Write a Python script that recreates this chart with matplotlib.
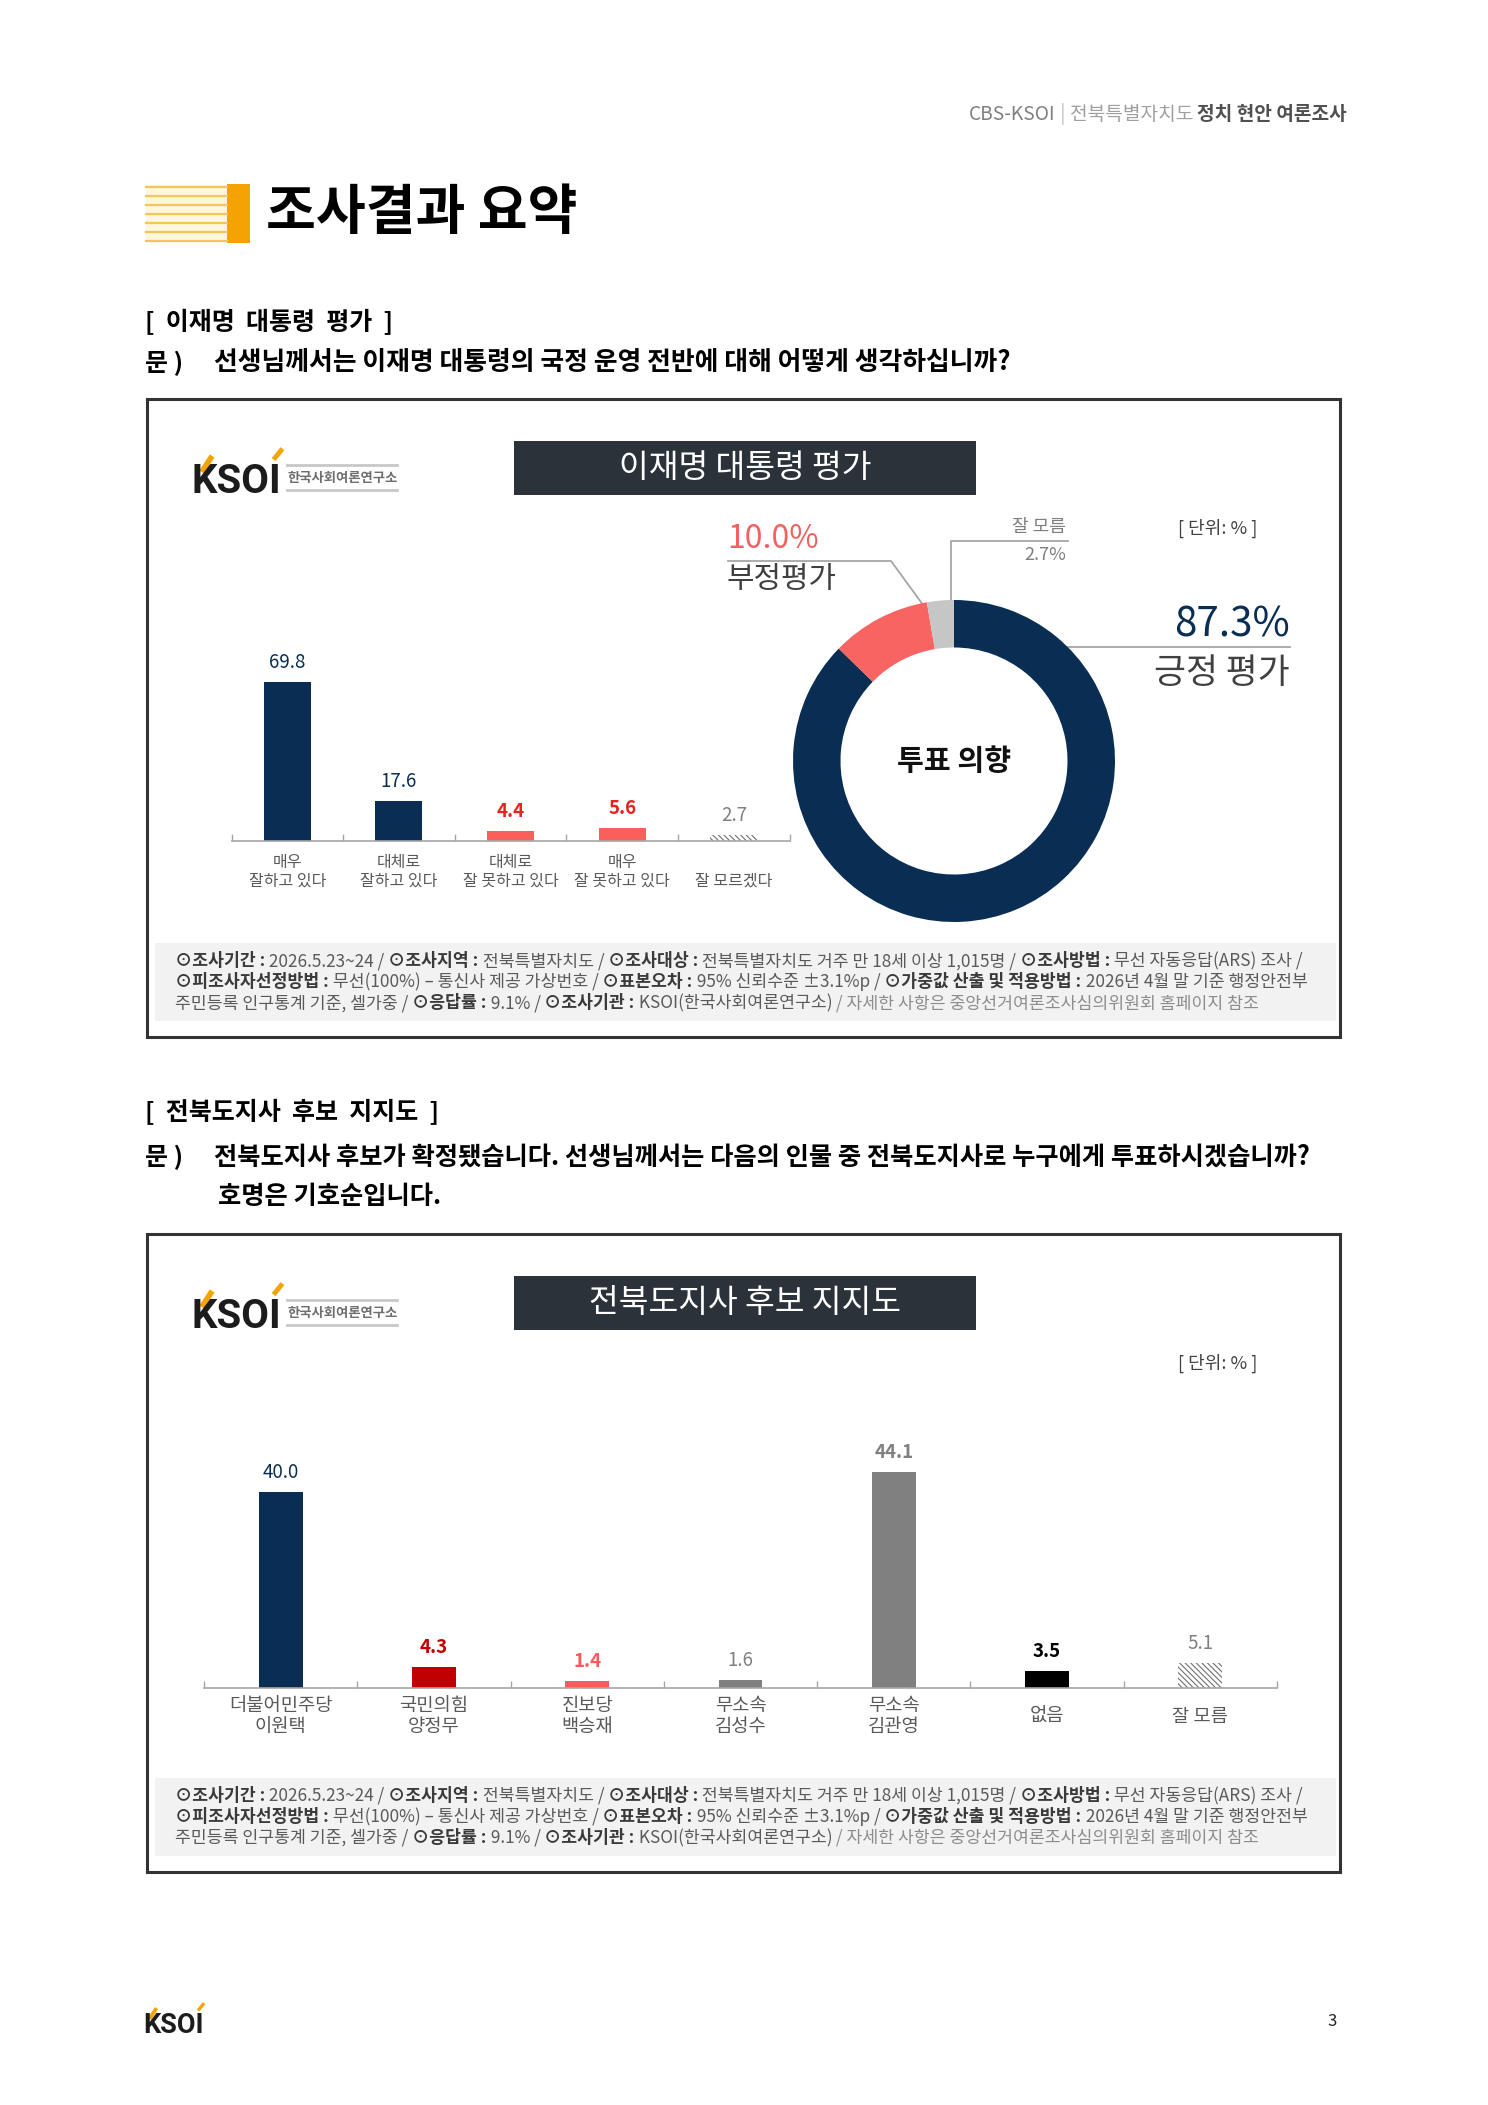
import numpy as np
import matplotlib
matplotlib.use('Agg')
from matplotlib import pyplot as plt
from matplotlib.patches import Rectangle

plt.rcParams['font.family'] = ['Noto Sans CJK KR', 'DejaVu Sans']
plt.rcParams['hatch.linewidth'] = 0.8

W, H = 1488, 2105

eval_cats = ['매우\n잘하고 있다', '대체로\n잘하고 있다', '대체로\n잘 못하고 있다',
             '매우\n잘 못하고 있다', '\n잘 모르겠다']
eval_vals = [69.8, 17.6, 4.4, 5.6, 2.7]

donut_labels = ['긍정 평가', '부정평가', '잘 모름']
donut_vals = [87.3, 10.0, 2.7]

cand_cats = ['더불어민주당\n이원택', '국민의힘\n양정무', '진보당\n백승재', '무소속\n김성수',
             '무소속\n김관영', '없음', '잘 모름']
cand_vals = [40.0, 4.3, 1.4, 1.6, 44.1, 3.5, 5.1]

NAVY = '#0a2d53'
CORAL = '#fa5f5c'

fig = plt.figure(figsize=(W / 100, H / 100), dpi=100)
page = fig.add_axes([0, 0, 1, 1])
page.set_xlim(0, W)
page.set_ylim(H, 0)
page.axis('off')
renderer = fig.canvas.get_renderer()


def px_axes(x0, y0, x1, y1):
    return fig.add_axes([x0 / W, 1 - y1 / H, (x1 - x0) / W, (y1 - y0) / H])


_pipe = {}
def text_w(s, size, weight, family=None):
    kw = {} if family is None else {'family': family}
    t = page.text(0, 0, '|' + s + '|', fontsize=size, fontweight=weight, **kw)
    w = t.get_window_extent(renderer).width
    t.remove()
    key = (size, weight, family)
    if key not in _pipe:
        t = page.text(0, 0, '||', fontsize=size, fontweight=weight, **kw)
        _pipe[key] = t.get_window_extent(renderer).width
        t.remove()
    return w - _pipe[key]


def runs(x, y, parts, size, ha='left'):
    widths = [text_w(s, size, wt) for s, wt, c in parts]
    if ha == 'right':
        x = x - sum(widths)
    for (s, wt, c), w in zip(parts, widths):
        page.text(x, y, s, fontsize=size, fontweight=wt, color=c, va='center', ha='left')
        x += w
    return sum(widths)


def logo(x, base, size, sub=True):
    page.text(x, base, 'KSOI', fontsize=size, fontweight='bold', family='Roboto',
              va='baseline', color='#1c1c1c')
    w = text_w('KSOI', size, 'bold', 'Roboto')
    em = size * 100 / 72
    page.plot([x + 0.24 * em, x + 0.5 * em], [base - 0.52 * em, base - 0.92 * em],
              color='#f5a300', lw=size * 0.14, solid_capstyle='butt')
    page.plot([x + w - 0.2 * em, x + w + 0.02 * em], [base - 0.83 * em, base - 1.1 * em],
              color='#f5a300', lw=size * 0.12, solid_capstyle='butt')
    if sub:
        sx = x + 95
        page.plot([sx, sx + 110], [base - 28, base - 28], color='#c8c8c8', lw=2)
        page.plot([sx, sx + 110], [base - 3, base - 3], color='#c8c8c8', lw=2)
        page.text(sx, base - 15, '한국사회여론연구소', fontsize=9.6, fontweight='bold',
                  color='#6e6e6e', va='center')


# ---- page header ----
runs(1347, 114, [('CBS-KSOI', 'normal', '#808080'), (' | ', 'normal', '#c0c0c0'),
                 ('전북특별자치도 ', 'normal', '#a0a0a0'), ('정치 현안 여론조사', 'bold', '#505050')],
     13.8, ha='right')

page.add_patch(Rectangle((146, 185), 81, 57, fc='#fff6dc', ec='none'))
for yy in np.linspace(187, 241, 7):
    page.plot([146, 227], [yy, yy], color='#f2c65a', lw=1.6)
page.add_patch(Rectangle((227, 184), 23, 59, fc='#f5a300', ec='none'))
page.text(266, 213, '조사결과 요약', fontsize=39, fontweight='bold', va='center')

page.text(145, 322, '[  이재명  대통령  평가  ]', fontsize=18, fontweight='bold', va='center')
page.text(145, 363, '문 )', fontsize=18, fontweight='bold', va='center')
page.text(214, 363, '선생님께서는 이재명 대통령의 국정 운영 전반에 대해 어떻게 생각하십니까?',
          fontsize=18.6, fontweight='bold', va='center')

page.text(145, 1112, '[  전북도지사  후보  지지도  ]', fontsize=18, fontweight='bold', va='center')
page.text(145, 1157, '문 )', fontsize=18, fontweight='bold', va='center')
page.text(214, 1157, '전북도지사 후보가 확정됐습니다. 선생님께서는 다음의 인물 중 전북도지사로 '
          '누구에게 투표하시겠습니까?', fontsize=18.2, fontweight='bold', va='center')
page.text(218, 1197, '호명은 기호순입니다.', fontsize=18.2, fontweight='bold', va='center')

# ---- footnote text ----
B, R, L = '#3a3a3a', '#5a5a5a', '#8c8c8c'
note_lines = [
    [('⊙조사기간 :', 'bold', B), (' 2026.5.23~24 / ', 'normal', R), ('⊙조사지역 :', 'bold', B),
     (' 전북특별자치도 / ', 'normal', R), ('⊙조사대상 :', 'bold', B),
     (' 전북특별자치도 거주 만 18세 이상 1,015명 / ', 'normal', R), ('⊙조사방법 :', 'bold', B),
     (' 무선 자동응답(ARS) 조사 /', 'normal', R)],
    [('⊙피조사자선정방법 :', 'bold', B), (' 무선(100%) – 통신사 제공 가상번호 / ', 'normal', R),
     ('⊙표본오차 :', 'bold', B), (' 95% 신뢰수준 ±3.1%p / ', 'normal', R),
     ('⊙가중값 산출 및 적용방법 :', 'bold', B), (' 2026년 4월 말 기준 행정안전부', 'normal', R)],
    [('주민등록 인구통계 기준, 셀가중 / ', 'normal', R), ('⊙응답률 :', 'bold', B),
     (' 9.1% / ', 'normal', R), ('⊙조사기관 :', 'bold', B), (' KSOI(한국사회여론연구소)', 'normal', R),
     (' / 자세한 사항은 중앙선거여론조사심의위원회 홈페이지 참조', 'normal', L)],
]
w0 = sum(text_w(s, 10, wt) for s, wt, c in note_lines[0])
note_fs = 10 * 1124 / w0


def panel(dy, title):
    page.add_patch(Rectangle((147, 399 + dy), 1193, 638, fill=False, ec='#333333', lw=2.2))
    page.add_patch(Rectangle((155, 943 + dy), 1181, 78, fc='#f2f2f2', ec='none'))
    page.add_patch(Rectangle((514, 441 + dy), 462, 54, fc='#2b323a', ec='none'))
    page.text(745, 468 + dy, title, color='white', fontsize=23.3, ha='center', va='center')
    logo(192, 493 + dy, 29)
    page.text(1178, 528 + dy, '[ 단위: % ]', fontsize=13, color='#404040', va='center')
    for k, parts in enumerate(note_lines):
        runs(175, 961 + dy + 21 * k, parts, note_fs)


panel(0, '이재명 대통령 평가')
panel(835, '전북도지사 후보 지지도')


def bar_axes(ax, n, ymax):
    ax.set_xlim(-0.5, n - 0.5)
    ax.set_ylim(0, ymax)
    ax.set_facecolor('none')
    for s in ['left', 'right', 'top']:
        ax.spines[s].set_visible(False)
    ax.spines['bottom'].set_color('#a6a6a6')
    ax.spines['bottom'].set_linewidth(1.2)
    ax.set_yticks([])
    ax.set_xticks([])
    ax.set_xticks(np.arange(n + 1) - 0.5, minor=True)
    ax.tick_params(which='minor', direction='in', length=5, color='#a6a6a6', width=1)


# ---- chart 1: evaluation bars ----
ax1 = px_axes(231.5, 613, 789.6, 841)
bar_axes(ax1, len(eval_vals), 100)
c1 = [NAVY, NAVY, CORAL, CORAL, None]
lc1 = [NAVY, NAVY, '#e8231f', '#e8231f', '#808080']
wt1 = ['medium', 'medium', 'bold', 'bold', 'normal']
for i, v in enumerate(eval_vals):
    if c1[i] is None:
        ax1.bar(i, v, 0.42, facecolor='white', edgecolor='#707070', lw=0, hatch='\\\\\\\\\\\\')
    else:
        ax1.bar(i, v, 0.42, color=c1[i])
    ax1.annotate(f'{v:.1f}', (i, v), xytext=(0, 14), textcoords='offset points',
                 ha='center', va='center', fontsize=13.5, color=lc1[i], fontweight=wt1[i])
    ax1.annotate(eval_cats[i], (i, 0), xytext=(0, -22), textcoords='offset points',
                 ha='center', va='center', fontsize=11.5, color='#595959', linespacing=1.1)

# ---- donut ----
cx, cy, rad = 954, 761, 161
axd = px_axes(cx - rad, cy - rad, cx + rad, cy + rad)
axd.pie(donut_vals, colors=[NAVY, '#f76461', '#c6c6c6'], startangle=90, counterclock=False,
        radius=1, wedgeprops=dict(width=0.295, edgecolor='none'))
axd.set_xlim(-1, 1)
axd.set_ylim(-1, 1)
axd.text(0, 0, '투표 의향', ha='center', va='center', fontsize=21, fontweight='bold', color='#111111')

cum = np.cumsum([0] + donut_vals) / sum(donut_vals)


def ring_pt(f):
    th = np.deg2rad(90 - 360 * f)
    return cx + rad * np.cos(th), cy - rad * np.sin(th)


lead = '#a6a6a6'
# negative
rx, ry = ring_pt(cum[1] + 0.95 * (cum[2] - cum[1]))
page.plot([728, 891, rx], [561, 561, ry], color=lead, lw=1.3)
page.text(727, 539, f'{donut_vals[1]:.1f}%', fontsize=23, color='#f26060', va='center')
page.text(727, 580, donut_labels[1], fontsize=21.5, color='#404040', va='center')
# don't know
gx, gy = ring_pt(cum[2] + 0.9 * (cum[3] - cum[2]))
page.plot([1068, gx, gx], [541, 541, gy], color=lead, lw=1.3)
page.text(1066, 527, donut_labels[2], fontsize=13, color='#7f7f7f', ha='right', va='center')
page.text(1066, 555, f'{donut_vals[2]:.1f}%', fontsize=13, color='#7f7f7f', ha='right', va='center')
# positive
py = 646.5
px0 = cx + np.sqrt(rad ** 2 - (cy - py) ** 2)
page.plot([px0, 1290], [py, py], color=lead, lw=1.3)
page.text(1290, 625, f'{donut_vals[0]:.1f}%', fontsize=29, color=NAVY, ha='right', va='center')
page.text(1290, 674, donut_labels[0], fontsize=25, color='#404040', ha='right', va='center')

# ---- chart 2: candidate support ----
ax2 = px_axes(204, 1443, 1277, 1688)
bar_axes(ax2, len(cand_vals), 50)
c2 = [NAVY, '#c00000', '#f75b5b', '#808080', '#808080', '#000000', None]
lc2 = [NAVY, '#c00000', '#f75b5b', '#808080', '#808080', '#000000', '#808080']
wt2 = ['medium', 'bold', 'bold', 'normal', 'bold', 'bold', 'normal']
for i, v in enumerate(cand_vals):
    if c2[i] is None:
        ax2.bar(i, v, 0.286, facecolor='white', edgecolor='#707070', lw=0, hatch='\\\\\\\\\\\\')
    else:
        ax2.bar(i, v, 0.286, color=c2[i])
    ax2.annotate(f'{v:.1f}', (i, v), xytext=(0, 14), textcoords='offset points',
                 ha='center', va='center', fontsize=13.5, color=lc2[i], fontweight=wt2[i])
    ax2.annotate(cand_cats[i], (i, 0), xytext=(0, -20.5), textcoords='offset points',
                 ha='center', va='center', fontsize=13.5, color='#595959', linespacing=1.0)

# ---- footer ----
logo(143, 2033, 19.5, sub=False)
page.text(1332, 2022, '3', fontsize=12, ha='center', va='center', color='#222222')

fig.savefig('out.png', dpi=100)
